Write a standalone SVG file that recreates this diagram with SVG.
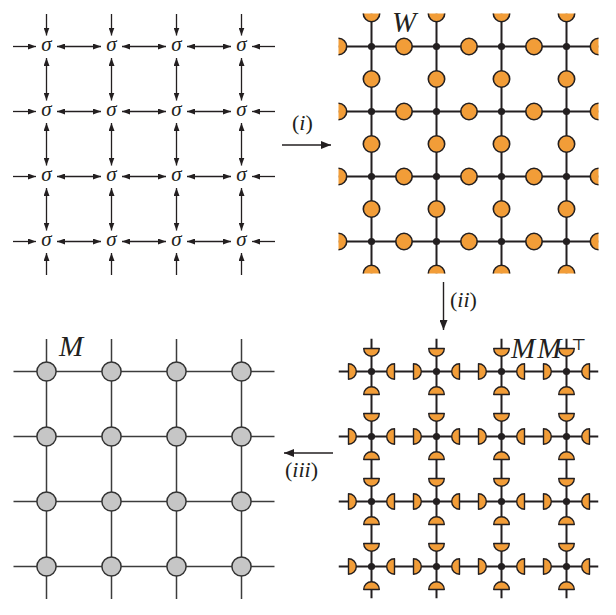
<svg xmlns="http://www.w3.org/2000/svg" xmlns:xlink="http://www.w3.org/1999/xlink" width="616" height="615" viewBox="0 0 616 615">
<style>
.bg{fill:#ffffff}
.sig{font-family:"Liberation Serif","DejaVu Serif",serif;font-style:italic;font-size:21px;fill:#231f20;text-anchor:middle}
.lab{font-family:"Liberation Serif","DejaVu Serif",serif;font-size:22px;fill:#231f20}
.it{font-style:italic}
.big{font-family:"Liberation Serif","DejaVu Serif",serif;font-style:italic;font-size:29px;fill:#231f20}
.a1{stroke:#231f20;stroke-width:1.3;fill:none;marker-end:url(#ah)}
.a2{stroke:#231f20;stroke-width:1.3;fill:none;marker-start:url(#ah);marker-end:url(#ah)}
.ab{stroke:#231f20;stroke-width:1.4;fill:none;marker-end:url(#ahb)}
.ln{stroke:#231f20;stroke-width:2;fill:none}
.gl{stroke:#3c3c3c;stroke-width:1.5;fill:none}
.dot{fill:#231f20}
.or{fill:#f29d38;stroke:#231f20;stroke-width:1.6}
.hd{fill:#f29d38;stroke:#231f20;stroke-width:1.4;stroke-linejoin:round}
.gc{fill:#c6c6c6;stroke:#333333;stroke-width:1.5}
</style>
<defs>
<marker id="ah" viewBox="0 0 8 6" refX="8" refY="3" markerWidth="8" markerHeight="6" markerUnits="userSpaceOnUse" orient="auto-start-reverse"><path d="M0,0 L8,3 L0,6 z" fill="#231f20"/></marker>
<marker id="ahb" viewBox="0 0 10 8" refX="10" refY="4" markerWidth="10" markerHeight="8" markerUnits="userSpaceOnUse" orient="auto"><path d="M0,0 L10,4 L0,8 z" fill="#231f20"/></marker>
<clipPath id="cW"><rect x="338.5" y="13.5" width="260" height="260"/></clipPath>
<clipPath id="cM"><rect x="338.5" y="338.5" width="260" height="260"/></clipPath>
<path id="hL" class="hd" d="M-23,-7.8 A7.8,7.8 0 0 1 -23,7.8 Z"/>
<path id="hR" class="hd" d="M23,-7.8 A7.8,7.8 0 0 0 23,7.8 Z"/>
<path id="hT" class="hd" d="M-7.8,-23 A7.8,7.8 0 0 0 7.8,-23 Z"/>
<path id="hB" class="hd" d="M-7.8,23 A7.8,7.8 0 0 1 7.8,23 Z"/>
</defs>
<rect class="bg" x="0" y="0" width="616" height="615"/>

<!-- ===== Panel 1: sigma lattice ===== -->
<g id="sigma-connectors">
<line class="a1" x1="13" y1="46.5" x2="36" y2="46.5"/><line class="a2" x1="57" y1="46.5" x2="101" y2="46.5"/><line class="a2" x1="122" y1="46.5" x2="166" y2="46.5"/><line class="a2" x1="187" y1="46.5" x2="231" y2="46.5"/><line class="a1" x1="275" y1="46.5" x2="252" y2="46.5"/>
<line class="a1" x1="13" y1="111.5" x2="36" y2="111.5"/><line class="a2" x1="57" y1="111.5" x2="101" y2="111.5"/><line class="a2" x1="122" y1="111.5" x2="166" y2="111.5"/><line class="a2" x1="187" y1="111.5" x2="231" y2="111.5"/><line class="a1" x1="275" y1="111.5" x2="252" y2="111.5"/>
<line class="a1" x1="13" y1="176.5" x2="36" y2="176.5"/><line class="a2" x1="57" y1="176.5" x2="101" y2="176.5"/><line class="a2" x1="122" y1="176.5" x2="166" y2="176.5"/><line class="a2" x1="187" y1="176.5" x2="231" y2="176.5"/><line class="a1" x1="275" y1="176.5" x2="252" y2="176.5"/>
<line class="a1" x1="13" y1="241.5" x2="36" y2="241.5"/><line class="a2" x1="57" y1="241.5" x2="101" y2="241.5"/><line class="a2" x1="122" y1="241.5" x2="166" y2="241.5"/><line class="a2" x1="187" y1="241.5" x2="231" y2="241.5"/><line class="a1" x1="275" y1="241.5" x2="252" y2="241.5"/>
<line class="a1" x1="46.5" y1="14" x2="46.5" y2="35.5"/><line class="a2" x1="46.5" y1="58" x2="46.5" y2="100.5"/><line class="a2" x1="46.5" y1="123" x2="46.5" y2="165.5"/><line class="a2" x1="46.5" y1="188" x2="46.5" y2="230.5"/><line class="a1" x1="46.5" y1="275" x2="46.5" y2="253"/>
<line class="a1" x1="111.5" y1="14" x2="111.5" y2="35.5"/><line class="a2" x1="111.5" y1="58" x2="111.5" y2="100.5"/><line class="a2" x1="111.5" y1="123" x2="111.5" y2="165.5"/><line class="a2" x1="111.5" y1="188" x2="111.5" y2="230.5"/><line class="a1" x1="111.5" y1="275" x2="111.5" y2="253"/>
<line class="a1" x1="176.5" y1="14" x2="176.5" y2="35.5"/><line class="a2" x1="176.5" y1="58" x2="176.5" y2="100.5"/><line class="a2" x1="176.5" y1="123" x2="176.5" y2="165.5"/><line class="a2" x1="176.5" y1="188" x2="176.5" y2="230.5"/><line class="a1" x1="176.5" y1="275" x2="176.5" y2="253"/>
<line class="a1" x1="241.5" y1="14" x2="241.5" y2="35.5"/><line class="a2" x1="241.5" y1="58" x2="241.5" y2="100.5"/><line class="a2" x1="241.5" y1="123" x2="241.5" y2="165.5"/><line class="a2" x1="241.5" y1="188" x2="241.5" y2="230.5"/><line class="a1" x1="241.5" y1="275" x2="241.5" y2="253"/>
</g>
<g id="sigma-nodes">
<g id="s11"><text class="sig" x="46.5" y="51">σ</text></g><g id="s12"><text class="sig" x="111.5" y="51">σ</text></g><g id="s13"><text class="sig" x="176.5" y="51">σ</text></g><g id="s14"><text class="sig" x="241.5" y="51">σ</text></g>
<g id="s21"><text class="sig" x="46.5" y="116">σ</text></g><g id="s22"><text class="sig" x="111.5" y="116">σ</text></g><g id="s23"><text class="sig" x="176.5" y="116">σ</text></g><g id="s24"><text class="sig" x="241.5" y="116">σ</text></g>
<g id="s31"><text class="sig" x="46.5" y="181">σ</text></g><g id="s32"><text class="sig" x="111.5" y="181">σ</text></g><g id="s33"><text class="sig" x="176.5" y="181">σ</text></g><g id="s34"><text class="sig" x="241.5" y="181">σ</text></g>
<g id="s41"><text class="sig" x="46.5" y="246">σ</text></g><g id="s42"><text class="sig" x="111.5" y="246">σ</text></g><g id="s43"><text class="sig" x="176.5" y="246">σ</text></g><g id="s44"><text class="sig" x="241.5" y="246">σ</text></g>
</g>

<!-- ===== Panel 2: W network ===== -->
<g clip-path="url(#cW)">
<g id="W-connectors">
<line class="ln" x1="338.5" y1="46.5" x2="598.5" y2="46.5"/><line class="ln" x1="338.5" y1="111.5" x2="598.5" y2="111.5"/><line class="ln" x1="338.5" y1="176.5" x2="598.5" y2="176.5"/><line class="ln" x1="338.5" y1="241.5" x2="598.5" y2="241.5"/>
<line class="ln" x1="371.5" y1="13.5" x2="371.5" y2="273.5"/><line class="ln" x1="436.5" y1="13.5" x2="436.5" y2="273.5"/><line class="ln" x1="501.5" y1="13.5" x2="501.5" y2="273.5"/><line class="ln" x1="566.5" y1="13.5" x2="566.5" y2="273.5"/>
</g>
<g id="W-tensors">
<circle class="or" cx="338.5" cy="46.5" r="8.2"/><circle class="or" cx="404" cy="46.5" r="8.2"/><circle class="or" cx="469" cy="46.5" r="8.2"/><circle class="or" cx="534" cy="46.5" r="8.2"/><circle class="or" cx="598.5" cy="46.5" r="8.2"/>
<circle class="or" cx="338.5" cy="111.5" r="8.2"/><circle class="or" cx="404" cy="111.5" r="8.2"/><circle class="or" cx="469" cy="111.5" r="8.2"/><circle class="or" cx="534" cy="111.5" r="8.2"/><circle class="or" cx="598.5" cy="111.5" r="8.2"/>
<circle class="or" cx="338.5" cy="176.5" r="8.2"/><circle class="or" cx="404" cy="176.5" r="8.2"/><circle class="or" cx="469" cy="176.5" r="8.2"/><circle class="or" cx="534" cy="176.5" r="8.2"/><circle class="or" cx="598.5" cy="176.5" r="8.2"/>
<circle class="or" cx="338.5" cy="241.5" r="8.2"/><circle class="or" cx="404" cy="241.5" r="8.2"/><circle class="or" cx="469" cy="241.5" r="8.2"/><circle class="or" cx="534" cy="241.5" r="8.2"/><circle class="or" cx="598.5" cy="241.5" r="8.2"/>
<circle class="or" cx="371.5" cy="13.5" r="8.2"/><circle class="or" cx="371.5" cy="79" r="8.2"/><circle class="or" cx="371.5" cy="144" r="8.2"/><circle class="or" cx="371.5" cy="209" r="8.2"/><circle class="or" cx="371.5" cy="273.5" r="8.2"/>
<circle class="or" cx="436.5" cy="13.5" r="8.2"/><circle class="or" cx="436.5" cy="79" r="8.2"/><circle class="or" cx="436.5" cy="144" r="8.2"/><circle class="or" cx="436.5" cy="209" r="8.2"/><circle class="or" cx="436.5" cy="273.5" r="8.2"/>
<circle class="or" cx="501.5" cy="13.5" r="8.2"/><circle class="or" cx="501.5" cy="79" r="8.2"/><circle class="or" cx="501.5" cy="144" r="8.2"/><circle class="or" cx="501.5" cy="209" r="8.2"/><circle class="or" cx="501.5" cy="273.5" r="8.2"/>
<circle class="or" cx="566.5" cy="13.5" r="8.2"/><circle class="or" cx="566.5" cy="79" r="8.2"/><circle class="or" cx="566.5" cy="144" r="8.2"/><circle class="or" cx="566.5" cy="209" r="8.2"/><circle class="or" cx="566.5" cy="273.5" r="8.2"/>
</g>
<g id="W-nodes">
<circle class="dot" cx="371.5" cy="46.5" r="3.6"/><circle class="dot" cx="436.5" cy="46.5" r="3.6"/><circle class="dot" cx="501.5" cy="46.5" r="3.6"/><circle class="dot" cx="566.5" cy="46.5" r="3.6"/>
<circle class="dot" cx="371.5" cy="111.5" r="3.6"/><circle class="dot" cx="436.5" cy="111.5" r="3.6"/><circle class="dot" cx="501.5" cy="111.5" r="3.6"/><circle class="dot" cx="566.5" cy="111.5" r="3.6"/>
<circle class="dot" cx="371.5" cy="176.5" r="3.6"/><circle class="dot" cx="436.5" cy="176.5" r="3.6"/><circle class="dot" cx="501.5" cy="176.5" r="3.6"/><circle class="dot" cx="566.5" cy="176.5" r="3.6"/>
<circle class="dot" cx="371.5" cy="241.5" r="3.6"/><circle class="dot" cx="436.5" cy="241.5" r="3.6"/><circle class="dot" cx="501.5" cy="241.5" r="3.6"/><circle class="dot" cx="566.5" cy="241.5" r="3.6"/>
</g>
</g>
<g id="label-W"><text class="big" x="392" y="31.5">W</text></g>

<!-- ===== Panel 3: M M^T network ===== -->
<g clip-path="url(#cM)">
<g id="MMT-connectors">
<line class="ln" x1="338.5" y1="371.5" x2="598.5" y2="371.5"/><line class="ln" x1="338.5" y1="436.5" x2="598.5" y2="436.5"/><line class="ln" x1="338.5" y1="501.5" x2="598.5" y2="501.5"/><line class="ln" x1="338.5" y1="566.5" x2="598.5" y2="566.5"/>
<line class="ln" x1="371.5" y1="338.5" x2="371.5" y2="598.5"/><line class="ln" x1="436.5" y1="338.5" x2="436.5" y2="598.5"/><line class="ln" x1="501.5" y1="338.5" x2="501.5" y2="598.5"/><line class="ln" x1="566.5" y1="338.5" x2="566.5" y2="598.5"/>
</g>
</g>
<g id="MMT-nodes">
<g id="m11" transform="translate(371.5,371.5)"><use xlink:href="#hL" href="#hL"/><use xlink:href="#hR" href="#hR"/><use xlink:href="#hT" href="#hT"/><use xlink:href="#hB" href="#hB"/><circle class="dot" r="3.6"/></g>
<g id="m12" transform="translate(436.5,371.5)"><use xlink:href="#hL" href="#hL"/><use xlink:href="#hR" href="#hR"/><use xlink:href="#hT" href="#hT"/><use xlink:href="#hB" href="#hB"/><circle class="dot" r="3.6"/></g>
<g id="m13" transform="translate(501.5,371.5)"><use xlink:href="#hL" href="#hL"/><use xlink:href="#hR" href="#hR"/><use xlink:href="#hT" href="#hT"/><use xlink:href="#hB" href="#hB"/><circle class="dot" r="3.6"/></g>
<g id="m14" transform="translate(566.5,371.5)"><use xlink:href="#hL" href="#hL"/><use xlink:href="#hR" href="#hR"/><use xlink:href="#hT" href="#hT"/><use xlink:href="#hB" href="#hB"/><circle class="dot" r="3.6"/></g>
<g id="m21" transform="translate(371.5,436.5)"><use xlink:href="#hL" href="#hL"/><use xlink:href="#hR" href="#hR"/><use xlink:href="#hT" href="#hT"/><use xlink:href="#hB" href="#hB"/><circle class="dot" r="3.6"/></g>
<g id="m22" transform="translate(436.5,436.5)"><use xlink:href="#hL" href="#hL"/><use xlink:href="#hR" href="#hR"/><use xlink:href="#hT" href="#hT"/><use xlink:href="#hB" href="#hB"/><circle class="dot" r="3.6"/></g>
<g id="m23" transform="translate(501.5,436.5)"><use xlink:href="#hL" href="#hL"/><use xlink:href="#hR" href="#hR"/><use xlink:href="#hT" href="#hT"/><use xlink:href="#hB" href="#hB"/><circle class="dot" r="3.6"/></g>
<g id="m24" transform="translate(566.5,436.5)"><use xlink:href="#hL" href="#hL"/><use xlink:href="#hR" href="#hR"/><use xlink:href="#hT" href="#hT"/><use xlink:href="#hB" href="#hB"/><circle class="dot" r="3.6"/></g>
<g id="m31" transform="translate(371.5,501.5)"><use xlink:href="#hL" href="#hL"/><use xlink:href="#hR" href="#hR"/><use xlink:href="#hT" href="#hT"/><use xlink:href="#hB" href="#hB"/><circle class="dot" r="3.6"/></g>
<g id="m32" transform="translate(436.5,501.5)"><use xlink:href="#hL" href="#hL"/><use xlink:href="#hR" href="#hR"/><use xlink:href="#hT" href="#hT"/><use xlink:href="#hB" href="#hB"/><circle class="dot" r="3.6"/></g>
<g id="m33" transform="translate(501.5,501.5)"><use xlink:href="#hL" href="#hL"/><use xlink:href="#hR" href="#hR"/><use xlink:href="#hT" href="#hT"/><use xlink:href="#hB" href="#hB"/><circle class="dot" r="3.6"/></g>
<g id="m34" transform="translate(566.5,501.5)"><use xlink:href="#hL" href="#hL"/><use xlink:href="#hR" href="#hR"/><use xlink:href="#hT" href="#hT"/><use xlink:href="#hB" href="#hB"/><circle class="dot" r="3.6"/></g>
<g id="m41" transform="translate(371.5,566.5)"><use xlink:href="#hL" href="#hL"/><use xlink:href="#hR" href="#hR"/><use xlink:href="#hT" href="#hT"/><use xlink:href="#hB" href="#hB"/><circle class="dot" r="3.6"/></g>
<g id="m42" transform="translate(436.5,566.5)"><use xlink:href="#hL" href="#hL"/><use xlink:href="#hR" href="#hR"/><use xlink:href="#hT" href="#hT"/><use xlink:href="#hB" href="#hB"/><circle class="dot" r="3.6"/></g>
<g id="m43" transform="translate(501.5,566.5)"><use xlink:href="#hL" href="#hL"/><use xlink:href="#hR" href="#hR"/><use xlink:href="#hT" href="#hT"/><use xlink:href="#hB" href="#hB"/><circle class="dot" r="3.6"/></g>
<g id="m44" transform="translate(566.5,566.5)"><use xlink:href="#hL" href="#hL"/><use xlink:href="#hR" href="#hR"/><use xlink:href="#hT" href="#hT"/><use xlink:href="#hB" href="#hB"/><circle class="dot" r="3.6"/></g>
</g>
<g id="label-MMT"><text class="big" x="511" y="358" font-size="30" letter-spacing="2">MM</text><text x="571" y="350" font-family="DejaVu Serif, serif" font-size="16" fill="#231f20">⊤</text></g>

<!-- ===== Panel 4: M network ===== -->
<g id="M-connectors">
<line class="gl" x1="13.5" y1="371.5" x2="274.5" y2="371.5"/><line class="gl" x1="13.5" y1="436.5" x2="274.5" y2="436.5"/><line class="gl" x1="13.5" y1="501.5" x2="274.5" y2="501.5"/><line class="gl" x1="13.5" y1="566.5" x2="274.5" y2="566.5"/>
<line class="gl" x1="46.5" y1="339" x2="46.5" y2="599"/><line class="gl" x1="111.5" y1="339" x2="111.5" y2="599"/><line class="gl" x1="176.5" y1="339" x2="176.5" y2="599"/><line class="gl" x1="241.5" y1="339" x2="241.5" y2="599"/>
</g>
<g id="M-nodes">
<g id="g11"><circle class="gc" cx="46.5" cy="371.5" r="9.6"/></g><g id="g12"><circle class="gc" cx="111.5" cy="371.5" r="9.6"/></g><g id="g13"><circle class="gc" cx="176.5" cy="371.5" r="9.6"/></g><g id="g14"><circle class="gc" cx="241.5" cy="371.5" r="9.6"/></g>
<g id="g21"><circle class="gc" cx="46.5" cy="436.5" r="9.6"/></g><g id="g22"><circle class="gc" cx="111.5" cy="436.5" r="9.6"/></g><g id="g23"><circle class="gc" cx="176.5" cy="436.5" r="9.6"/></g><g id="g24"><circle class="gc" cx="241.5" cy="436.5" r="9.6"/></g>
<g id="g31"><circle class="gc" cx="46.5" cy="501.5" r="9.6"/></g><g id="g32"><circle class="gc" cx="111.5" cy="501.5" r="9.6"/></g><g id="g33"><circle class="gc" cx="176.5" cy="501.5" r="9.6"/></g><g id="g34"><circle class="gc" cx="241.5" cy="501.5" r="9.6"/></g>
<g id="g41"><circle class="gc" cx="46.5" cy="566.5" r="9.6"/></g><g id="g42"><circle class="gc" cx="111.5" cy="566.5" r="9.6"/></g><g id="g43"><circle class="gc" cx="176.5" cy="566.5" r="9.6"/></g><g id="g44"><circle class="gc" cx="241.5" cy="566.5" r="9.6"/></g>
</g>
<g id="label-M"><text class="big" x="59" y="356" font-size="26">M</text></g>

<!-- ===== Transition arrows ===== -->
<g id="transitions">
<line class="ab" x1="282" y1="145" x2="331" y2="145"/>
<line class="ab" x1="443.5" y1="282" x2="443.5" y2="330"/>
<line class="ab" x1="333" y1="453" x2="284" y2="453"/>
</g>
<g id="transition-labels">
<text class="lab" x="292" y="130">(<tspan class="it">i</tspan>)</text>
<text class="lab" x="450" y="307">(<tspan class="it">ii</tspan>)</text>
<text class="lab" x="285" y="477">(<tspan class="it">iii</tspan>)</text>
</g>
</svg>
